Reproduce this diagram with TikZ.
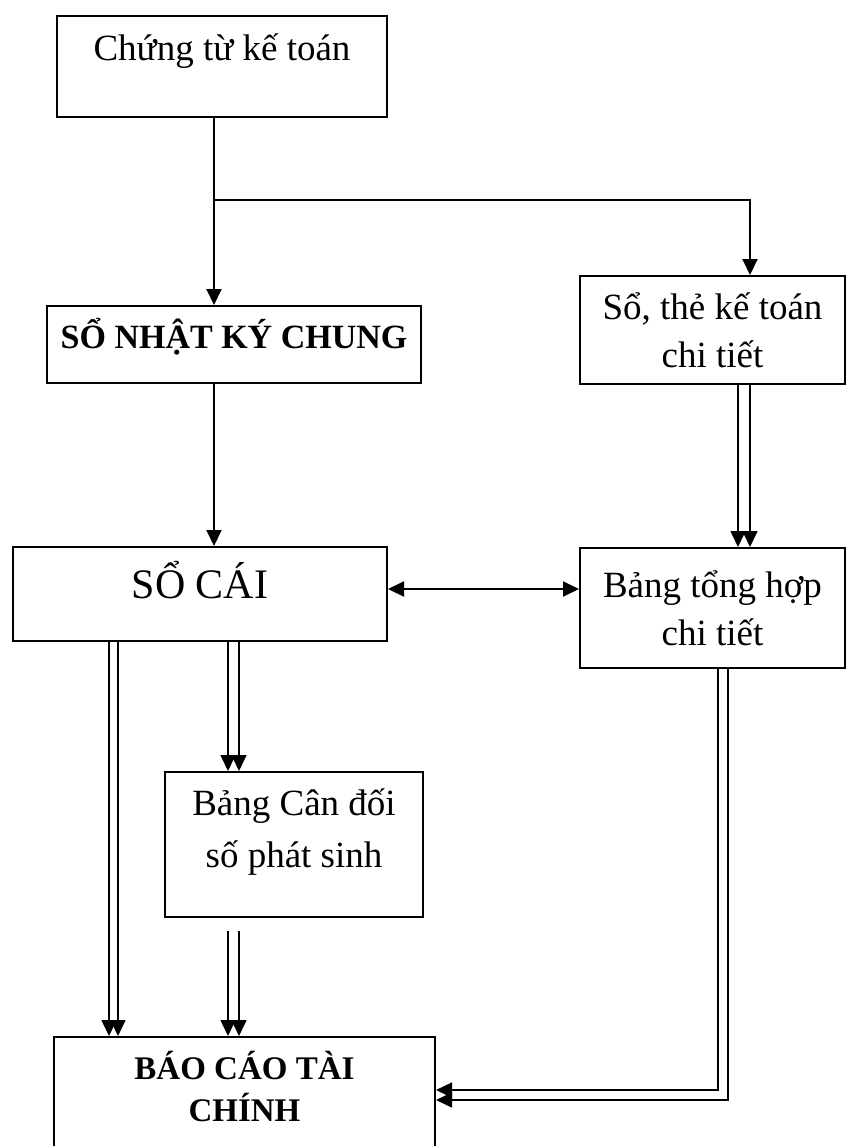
\documentclass[tikz,border=0pt]{standalone}
\usepackage{fontspec}
\setmainfont{Liberation Serif}
\usetikzlibrary{arrows.meta}

\begin{document}
\begin{tikzpicture}[x=1pt,y=-1pt,>={Triangle[length=16pt,width=15pt]},
    hop/.style={draw,line width=2pt,inner sep=0pt,align=center,font=\fontsize{37}{48}\selectfont},
    don/.style={line width=2pt,->},
    kep/.style={line width=1.6pt,->}]
    \useasboundingbox (0,0) rectangle (846,1146);
    \node[hop,minimum width=330,minimum height=101,text height=30,text depth=43] (ct) at (222,66.5) {Chứng từ kế toán};
    \node[hop,minimum width=374,minimum height=77,text height=25,text depth=18,font=\fontsize{34}{42}\selectfont\bfseries] (nkc) at (234,344.5) {SỔ NHẬT KÝ CHUNG};
    \node[hop,minimum width=265,minimum height=108] (stct) at (712.5,330) {Sổ, thẻ kế toán\\chi tiết};
    \node[hop,minimum width=374,minimum height=94,text height=30,text depth=22,font=\fontsize{42}{50}\selectfont] (sc) at (200,594) {SỔ CÁI};
    \node[hop,minimum width=265,minimum height=120] (thct) at (712.5,608) {Bảng tổng hợp\\chi tiết};
    \node[hop,minimum width=258,minimum height=145,text height=75,text depth=30,font=\fontsize{37}{52}\selectfont] (cdps) at (294,844.5) {Bảng Cân đối\\số phát sinh};
    \node[hop,minimum width=381,minimum height=115,text height=80,text depth=27,font=\fontsize{33}{42}\selectfont\bfseries] (bctc) at (244.5,1094.5) {BÁO CÁO TÀI\\CHÍNH};
    \coordinate (tr) at (214,200);
    \coordinate (br) at (750,200);
    \draw[don] (ct.south -| tr) -- (nkc.north -| tr);
    \draw[don] (tr) -- (br) -- (stct.north -| br);
    \draw[don] (nkc.south -| tr) -- (sc.north -| tr);
    \draw[kep] (stct.south -| br) -- (thct.north -| br);
    \draw[kep] ([xshift=-12pt]stct.south -| br) -- ([xshift=-12pt]thct.north -| br);
    \coordinate (m) at ([yshift=5pt]sc.east);
    \draw[don,<->] (m) -- (m -| thct.west);
    \foreach \d in {-91,-82}
        \draw[kep] ([xshift=\d pt]sc.south) -- ([xshift=\d pt]sc.south |- bctc.north);
    \foreach \d in {28,39}
        \draw[kep] ([xshift=\d pt]sc.south) -- ([xshift=\d pt]sc.south |- cdps.north);
    \foreach \d in {-66,-55}
        \draw[kep,shorten <=13pt] ([xshift=\d pt]cdps.south) -- ([xshift=\d pt]cdps.south |- bctc.north);
    \draw[kep] ([xshift=5.5pt]thct.south) |- ([yshift=4.5pt]bctc.east);
    \draw[kep] ([xshift=15.5pt]thct.south) |- ([yshift=-5.5pt]bctc.east);
\end{tikzpicture}
\end{document}
